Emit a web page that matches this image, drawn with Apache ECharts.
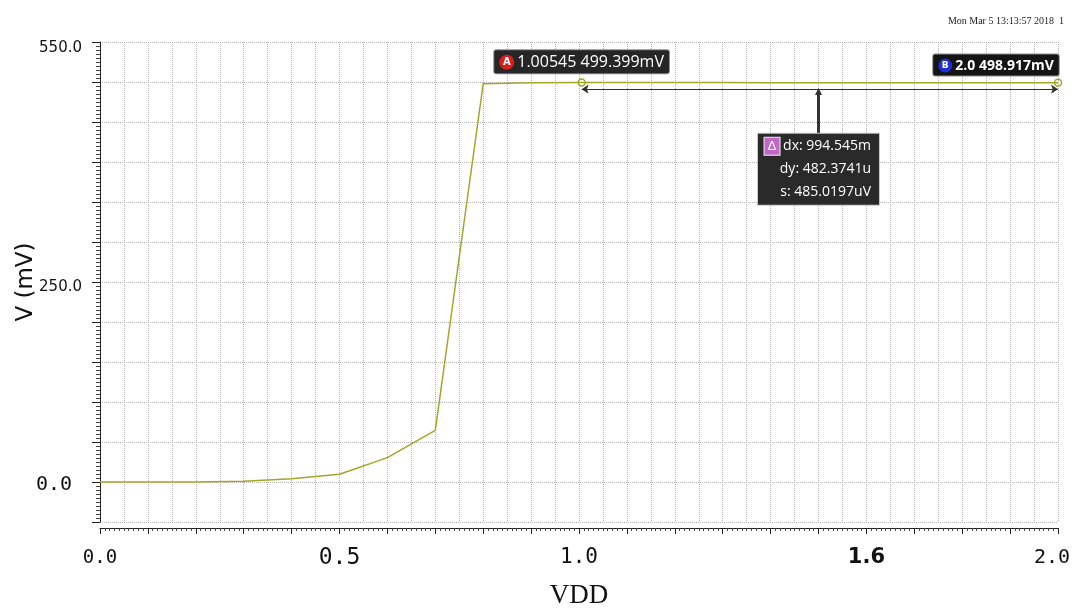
<!DOCTYPE html>
<html>
<head>
<meta charset="utf-8">
<script src="https://cdn.jsdelivr.net/npm/echarts@6/dist/echarts.min.js"></script>
<style>
  html, body { margin: 0; padding: 0; background: #fff; }
  #chart { width: 1075px; height: 612px; }
</style>
</head>
<body>
<div id="chart"></div>
<script>
// sweep values
const vdd = [0.0, 0.1, 0.2, 0.3, 0.4, 0.5, 0.6, 0.7, 0.8, 0.9, 1.0, 1.1, 1.2, 1.3, 1.4, 1.5, 1.6, 1.7, 1.8, 1.9, 2.0];
const vout = [0.0, 0.0, 0.1, 0.8, 4.0, 9.6, 30.5, 64.6, 497.8, 499.1, 499.4, 499.35, 499.3, 499.25, 499.2, 499.15, 499.1, 499.05, 499.0, 498.95, 498.917];

const xLabels = [0.0, 0.5, 1.0, 1.6, 2.0];
const yLabels = [0, 250, 550];

// cursors
const markerA = [1.00545, 499.399];
const markerB = [2.0, 498.917];
const dimY = 491;
const deltaX = 1.5;
const deltaTop = 436;
const deltaText = ["dx: 994.545m", "dy: 482.3741u", "s: 485.0197uV"];
const stamp = "Mon Mar 5 13:13:57 2018  1";

const lineColor = "#a5a52a";
const gridColor = "#b3b3b3";

const chart = echarts.init(document.getElementById("chart"));

const xRich = {
  a: { fontFamily: "DejaVu Sans Mono", fontSize: 19, color: "#111" },
  b: { fontFamily: "DejaVu Sans Mono", fontSize: 23, color: "#111" },
  c: { fontFamily: "DejaVu Sans Mono", fontSize: 21, color: "#111" },
  d: { fontFamily: "DejaVu Sans", fontSize: 21, fontWeight: "bold", color: "#111" },
  e: { fontFamily: "DejaVu Sans Mono", fontSize: 20, color: "#111", padding: [0, 12, 0, 0] },
};
const yRich = {
  a: { fontFamily: "DejaVu Sans Mono", fontSize: 20, color: "#111", padding: [6, 10, 0, 0] },
  b: { fontFamily: "DejaVu Sans", fontSize: 15, color: "#111", padding: [10, 0, 0, 0] },
  c: { fontFamily: "DejaVu Sans", fontSize: 15, color: "#111", padding: [12, 0, 0, 0] },
};

const option = {
  backgroundColor: "#fff",
  animation: false,
  title: {
    text: stamp,
    right: 6,
    top: 11,
    textStyle: { fontFamily: "Liberation Serif", fontSize: 10, fontWeight: "normal", color: "#222" },
  },
  grid: { left: 100, right: 17, top: 42, bottom: 90, outerBoundsMode: "none" },
  xAxis: [
    {
      type: "value",
      min: 0,
      max: 2.0,
      interval: 0.05,
      name: "VDD",
      nameLocation: "middle",
      nameGap: 60,
      nameMoveOverlap: false,
      nameTextStyle: { fontFamily: "Liberation Serif", fontSize: 27, color: "#111" },
      axisLine: { show: false },
      axisTick: { show: false },
      splitLine: { show: true, lineStyle: { type: "dotted", color: gridColor, width: 1 } },
      axisLabel: {
        customValues: xLabels,
        margin: 36,
        verticalAlign: "middle",
        rich: xRich,
        formatter: (v) => {
          const keys = ["a", "b", "c", "d", "e"];
          const i = xLabels.findIndex((x) => Math.abs(x - v) < 1e-6);
          return "{" + keys[i < 0 ? 0 : i] + "|" + v.toFixed(1) + "}";
        },
      },
    },
    {
      type: "value",
      min: 0,
      max: 2.0,
      interval: 0.1,
      position: "bottom",
      offset: 6,
      axisLine: { show: true, lineStyle: { color: "#222", width: 1 } },
      axisTick: { show: true, length: 6, lineStyle: { color: "#222" } },
      minorTick: { show: true, splitNumber: 10, length: 3, lineStyle: { color: "#444" } },
      axisLabel: { show: false },
      splitLine: { show: false },
    },
  ],
  yAxis: {
    type: "value",
    min: -50,
    max: 550,
    interval: 50,
    offset: 4,
    name: "V (mV)",
    nameLocation: "middle",
    nameGap: 58,
    nameMoveOverlap: false,
    nameTextStyle: { fontFamily: "DejaVu Sans", fontSize: 23, color: "#111" },
    axisLine: { show: true, lineStyle: { color: "#222", width: 1 } },
    axisTick: { show: true, length: 8, lineStyle: { color: "#222" } },
    minorTick: { show: true, splitNumber: 10, length: 4, lineStyle: { color: "#444" } },
    splitLine: { show: true, lineStyle: { type: "dotted", color: gridColor, width: 1 } },
    axisLabel: {
      customValues: yLabels,
      margin: 14,
      rich: yRich,
      formatter: (v) => {
        if (v === 0) return "{a|0.0}";
        if (v === 250) return "{b|250.0}";
        return "{c|" + v.toFixed(1) + "}";
      },
    },
  },
  series: [
    {
      type: "line",
      xAxisIndex: 0,
      data: vdd.map((x, i) => [x, vout[i]]),
      showSymbol: false,
      lineStyle: { color: lineColor, width: 1.5 },
      itemStyle: { color: lineColor },
      z: 3,
      markPoint: {
        symbol: "circle",
        symbolSize: 7,
        itemStyle: { color: "rgba(255,255,255,0)", borderColor: lineColor, borderWidth: 1.5 },
        data: [
          {
            coord: markerA,
            label: {
              show: true,
              position: "top",
              distance: 5,
              backgroundColor: "#262626",
              borderColor: "#8a8a8a",
              borderWidth: 1,
              borderRadius: 2,
              padding: [4, 5, 3, 5],
              formatter: "{m|A}{t|" + markerA[0] + " " + markerA[1] + "mV}",
              rich: {
                m: {
                  backgroundColor: "#d81e1e", color: "#fff", borderRadius: 8,
                  width: 15, height: 15, align: "center", fontSize: 10, fontWeight: "bold",
                  fontFamily: "DejaVu Sans",
                },
                t: { color: "#fff", fontSize: 16, fontFamily: "Open Sans", padding: [0, 0, 0, 3] },
              },
            },
          },
          {
            coord: markerB,
            label: {
              show: true,
              position: "top",
              distance: 3,
              offset: [-62, 0],
              backgroundColor: "#141414",
              borderColor: "#8a8a8a",
              borderWidth: 1,
              borderRadius: 2,
              padding: [4, 5, 3, 5],
              formatter: "{m|B}{t|" + markerB[0].toFixed(1) + " " + markerB[1] + "mV}",
              rich: {
                m: {
                  backgroundColor: "#1f2fd8", color: "#fff", borderRadius: 8,
                  width: 14, height: 14, align: "center", fontSize: 9, fontWeight: "bold",
                  fontFamily: "DejaVu Sans",
                },
                t: { color: "#fff", fontSize: 14, fontWeight: "bold", fontFamily: "Open Sans", padding: [0, 0, 0, 3] },
              },
            },
          },
          {
            coord: [deltaX, deltaTop],
            symbolSize: 1,
            itemStyle: { color: "rgba(0,0,0,0)", borderWidth: 0 },
            label: {
              show: true,
              position: "bottom",
              distance: 0,
              backgroundColor: "#2a2a2a",
              borderColor: "#c8c8c8",
              borderWidth: 1,
              padding: [1, 8, 1, 3],
              width: 110,
              formatter:
                "{d|Δ}{r|" + deltaText[0] + "}\n{r|" + deltaText[1] + "}\n{r|" + deltaText[2] + "}",
              rich: {
                d: {
                  backgroundColor: "#c466c8", color: "#fff", borderColor: "#eee", borderWidth: 1,
                  width: 15, height: 17, align: "center", fontSize: 13, fontFamily: "DejaVu Sans",
                },
                r: { color: "#fff", fontSize: 14, fontFamily: "Open Sans", align: "right", lineHeight: 23 },
              },
            },
          },
        ],
      },
      markLine: {
        silent: true,
        label: { show: false },
        data: [
          [
            { coord: [markerA[0], dimY], symbol: "arrow", symbolSize: 7, lineStyle: { color: "#333", width: 1, type: "solid" } },
            { coord: [markerB[0], dimY], symbol: "arrow", symbolSize: 7 },
          ],
          [
            { coord: [deltaX, deltaTop], symbol: "none", lineStyle: { color: "#333", width: 3, type: "solid" } },
            { coord: [deltaX, dimY - 3], symbol: "triangle", symbolSize: 7 },
          ],
        ],
      },
    },
  ],
};

chart.setOption(option);
</script>
</body>
</html>
